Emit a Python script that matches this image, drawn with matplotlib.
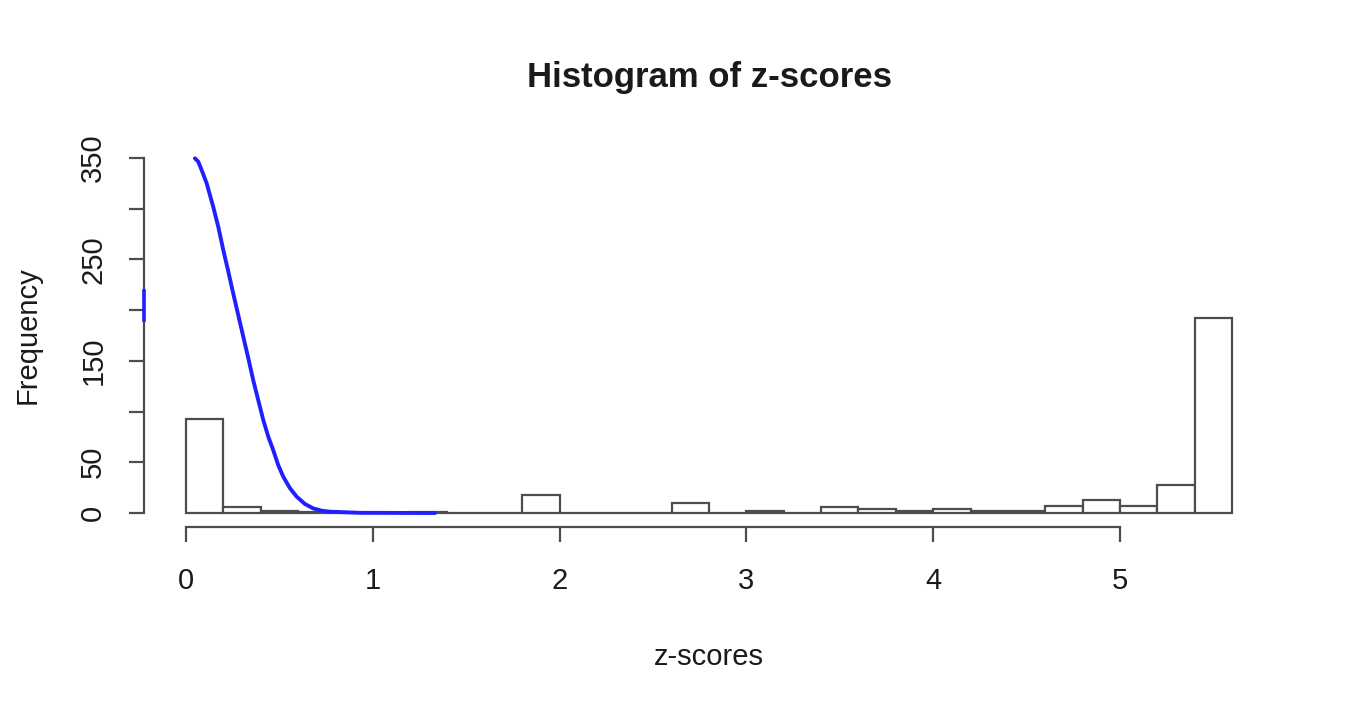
import numpy as np
import matplotlib
matplotlib.use("Agg")
import matplotlib.pyplot as plt

plt.rcParams['font.family'] = ['Liberation Sans', 'DejaVu Sans']

# histogram of z-scores, bins of width 0.2 from 0 to 5.6
bin_edges = np.round(np.arange(0, 5.61, 0.2), 2)
counts = [93, 6, 2, 1, 0, 0, 1, 0, 0, 18,
          0, 0, 0, 10, 0, 2, 0, 6, 4, 2,
          4, 2, 2, 7, 13, 7, 28, 192]

# blue density curve
curve_x = [0.048, 0.066, 0.084, 0.111, 0.146, 0.173, 0.200, 0.227, 0.253,
           0.280, 0.307, 0.334, 0.360, 0.387, 0.414, 0.441, 0.467, 0.494,
           0.521, 0.557, 0.593, 0.637, 0.681, 0.726, 0.771, 0.93, 1.333]
curve_y = [349.7, 346.4, 338.2, 325.1, 302.0, 282.3, 259.3, 237.9, 216.6,
           195.2, 173.8, 152.5, 131.1, 111.4, 91.7, 75.2, 62.1, 47.3,
           35.8, 24.4, 16.1, 8.9, 4.6, 2.3, 1.3, 0.2, 0]
# little piece of the curve showing at the left border of the plot region
edge_x = [-0.224, -0.224]
edge_y = [190, 219]

xticks = [0, 1, 2, 3, 4, 5]
yticks = [0, 50, 100, 150, 200, 250, 300, 350]
ytick_labels = ['0', '50', '', '150', '', '250', '', '350']

line_col = '#4d4d4d'
text_col = '#1a1a1a'
blue = '#1f1fff'

fig = plt.figure(figsize=(13.49, 7.07), dpi=100)
ax = fig.add_axes([0.1068, 0.2543, 0.8376, 0.5423])

widths = np.diff(bin_edges)
ax.bar(bin_edges[:-1], counts, width=widths, align='edge',
       facecolor='white', edgecolor=line_col, linewidth=1.6, zorder=2)

ax.plot(curve_x, curve_y, color=blue, linewidth=2.8, zorder=3,
        solid_joinstyle='round', solid_capstyle='round')
ax.plot(edge_x, edge_y, color=blue, linewidth=2.6, zorder=4,
        clip_on=False)

ax.set_xlim(-0.224, 5.824)
ax.set_ylim(-14, 364)

for s in ['top', 'right']:
    ax.spines[s].set_visible(False)
ax.spines['left'].set_bounds(0, 350)
ax.spines['bottom'].set_bounds(0, 5)
for s in ['left', 'bottom']:
    ax.spines[s].set_color(line_col)
    ax.spines[s].set_linewidth(1.6)

ax.set_xticks(xticks)
ax.set_xticklabels([str(t) for t in xticks])
ax.set_yticks(yticks)
ax.set_yticklabels(ytick_labels, rotation=90, va='center')

ax.tick_params(axis='both', direction='out', length=11, width=1.6,
               color=line_col, labelcolor=text_col, labelsize=21)
ax.tick_params(axis='x', pad=18)
ax.tick_params(axis='y', pad=15.5)

ax.set_title('Histogram of z-scores', fontsize=25, fontweight='bold',
             color=text_col, pad=41)
ax.set_xlabel('z-scores', fontsize=21, color=text_col, labelpad=34)
ax.set_ylabel('Frequency', fontsize=21, color=text_col, labelpad=27)

fig.savefig('out.png', dpi=100, facecolor='white')
